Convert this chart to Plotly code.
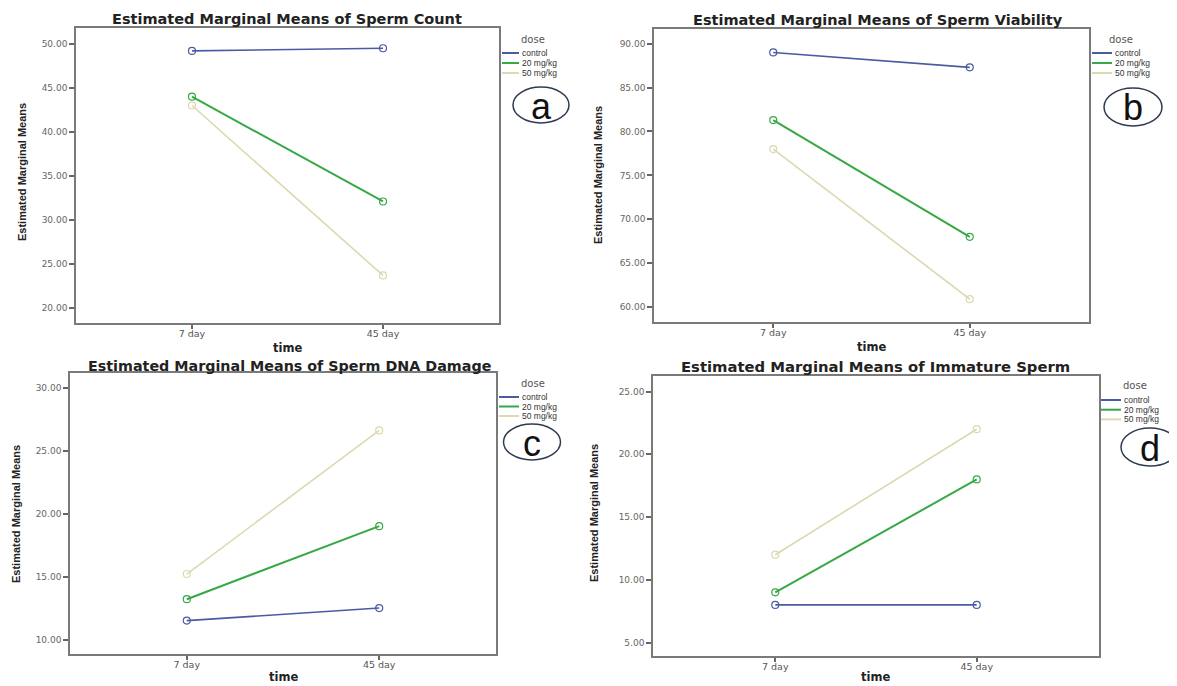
import plotly.graph_objects as go

# ---------------- data ----------------
times = ["7 day", "45 day"]
doses = ["control", "20 mg/kg", "50 mg/kg"]

count_control = [49.2, 49.5]
count_20 = [44.0, 32.1]
count_50 = [43.0, 23.7]

viab_control = [89.0, 87.3]
viab_20 = [81.3, 68.0]
viab_50 = [78.0, 60.9]

dna_control = [11.5, 12.5]
dna_20 = [13.2, 19.0]
dna_50 = [15.2, 26.6]

imm_control = [8.0, 8.0]
imm_20 = [9.0, 18.0]
imm_50 = [12.0, 22.0]

titles = [
    "Estimated Marginal Means of Sperm Count",
    "Estimated Marginal Means of Sperm Viability",
    "Estimated Marginal Means of Sperm DNA Damage",
    "Estimated Marginal Means of Immature Sperm",
]
panel_letters = ["a", "b", "c", "d"]
y_ticks = [
    [20, 25, 30, 35, 40, 45, 50],
    [60, 65, 70, 75, 80, 85, 90],
    [10, 15, 20, 25, 30],
    [5, 10, 15, 20, 25],
]
y_ranges = [[18.3, 51.8], [58.3, 91.67], [8.85, 31.16], [3.93, 26.24]]
series = [
    [count_control, count_20, count_50],
    [viab_control, viab_20, viab_50],
    [dna_control, dna_20, dna_50],
    [imm_control, imm_20, imm_50],
]

# ---------------- styling / layout geometry (page pixels) ----------------
PAGE_W, PAGE_H = 1177, 686
OFF = 8  # default body margin of the html page
W, H = PAGE_W - OFF, PAGE_H - OFF
colors = ["#4a5aa3", "#36a845", "#ddd8ae"]
widths = [1.6, 2.0, 1.6]

# frame boxes: left, right, top, bottom (page px)
frames = [
    (76, 499, 28, 323),
    (654, 1089, 29, 322),
    (70, 496, 373, 654),
    (653, 1099, 376, 656),
]
title_pos = [(287, 19, 14.5), (878, 20, 14.5), (289, 366, 14.3), (875, 366, 14.8)]
ytitle_pos = [(22, 172), (598, 175), (16, 514), (594, 513)]
xtitle_pos = [(287, 348), (871, 347), (283, 677), (875, 677)]
legend_pos = [  # line x0, line x1, dose-title center x, title y, first entry y, step
    (502, 519, 533, 39, 53, 10),
    (1092, 1112, 1121, 39, 53, 10),
    (499, 519, 533, 383, 397, 9.5),
    (1101, 1121, 1135, 385, 400, 9.7),
]
circle_pos = [(541, 105, 56, 36), (1133, 107, 58, 38), (532, 442, 57, 36), (1150, 447, 58, 38)]

TXT = "Liberation Sans, Arial"
WIDE = "DejaVu Sans, Verdana"


def px(x):
    return (x - OFF) / W


def py(y):
    return 1 - (y - OFF) / H


fig = go.Figure()
annotations = []
shapes = []
layout_axes = {}

for i in range(4):
    n = "" if i == 0 else str(i + 1)
    xa, ya = "x" + n, "y" + n
    for j, dose in enumerate(doses):
        fig.add_trace(
            go.Scatter(
                x=times,
                y=series[i][j],
                name=dose,
                mode="lines+markers",
                line=dict(color=colors[j], width=widths[j]),
                marker=dict(symbol="circle-open", size=7, color=colors[j], line=dict(width=1.2)),
                xaxis=xa,
                yaxis=ya,
                showlegend=False,
            )
        )
    l, r, t, b = frames[i]
    layout_axes["xaxis" + n] = dict(
        domain=[px(l), px(r)],
        anchor=ya,
        type="category",
        categoryorder="array",
        categoryarray=times,
        range=[-0.607, 1.607],
        showline=True,
        mirror=True,
        linecolor="#7a7a7a",
        linewidth=1.6,
        ticks="outside",
        ticklen=4,
        tickcolor="#666",
        tickwidth=1.5,
        ticklabelstandoff=-3,
        showgrid=False,
        zeroline=False,
        tickfont=dict(family=WIDE, size=9.5, color="#555"),
    )
    layout_axes["yaxis" + n] = dict(
        domain=[py(b), py(t)],
        anchor=xa,
        range=y_ranges[i],
        tickvals=y_ticks[i],
        tickformat=".2f",
        showline=True,
        mirror=True,
        linecolor="#7a7a7a",
        linewidth=1.6,
        ticks="outside",
        ticklen=5,
        tickcolor="#666",
        tickwidth=1.5,
        showgrid=False,
        zeroline=False,
        tickfont=dict(family=WIDE, size=9, color="#666"),
    )

    # panel title
    tx, ty, ts = title_pos[i]
    annotations.append(dict(
        text="<b>" + titles[i] + "</b>", x=px(tx), y=py(ty), xref="paper", yref="paper",
        showarrow=False, xanchor="center", yanchor="middle",
        font=dict(family=WIDE, size=ts, color="#222"),
    ))
    # y axis title
    yx, yy = ytitle_pos[i]
    annotations.append(dict(
        text="<b>Estimated Marginal Means</b>", x=px(yx), y=py(yy), xref="paper", yref="paper",
        showarrow=False, xanchor="center", yanchor="middle", textangle=-90,
        font=dict(family="Liberation Sans Narrow, Arial Narrow, Liberation Sans", size=11, color="#222"),
    ))
    # x axis title
    xx, xy = xtitle_pos[i]
    annotations.append(dict(
        text="<b>time</b>", x=px(xx), y=py(xy), xref="paper", yref="paper",
        showarrow=False, xanchor="center", yanchor="middle",
        font=dict(family=WIDE, size=11.5, color="#222"),
    ))
    # legend
    lx0, lx1, dx, dy, ey, step = legend_pos[i]
    annotations.append(dict(
        text="dose", x=px(dx), y=py(dy), xref="paper", yref="paper",
        showarrow=False, xanchor="center", yanchor="middle",
        font=dict(family=WIDE, size=10, color="#555"),
    ))
    for j, dose in enumerate(doses):
        yy_ = ey + j * step
        shapes.append(dict(
            type="line", xref="paper", yref="paper",
            x0=px(lx0), x1=px(lx1), y0=py(yy_), y1=py(yy_),
            line=dict(color=colors[j], width=2),
        ))
        annotations.append(dict(
            text=dose, x=px(lx1 + 1), y=py(yy_), xref="paper", yref="paper",
            showarrow=False, xanchor="left", yanchor="middle",
            font=dict(family=TXT, size=8.5, color="#333"),
        ))
    # panel letter circle
    cx, cy, cw, ch = circle_pos[i]
    shapes.append(dict(
        type="circle", xref="paper", yref="paper",
        x0=px(cx - cw / 2), x1=px(cx + cw / 2), y0=py(cy + ch / 2), y1=py(cy - ch / 2),
        line=dict(color="#2f3a50", width=1.5),
    ))
    annotations.append(dict(
        text=panel_letters[i], x=px(cx), y=py(cy + 1), xref="paper", yref="paper",
        showarrow=False, xanchor="center", yanchor="middle",
        font=dict(family=TXT, size=36, color="#111"),
    ))

fig.update_layout(
    width=W,
    height=H,
    margin=dict(l=0, r=0, t=0, b=0),
    paper_bgcolor="white",
    plot_bgcolor="white",
    showlegend=False,
    annotations=annotations,
    shapes=shapes,
    **layout_axes,
)

fig.write_html("out.html")
